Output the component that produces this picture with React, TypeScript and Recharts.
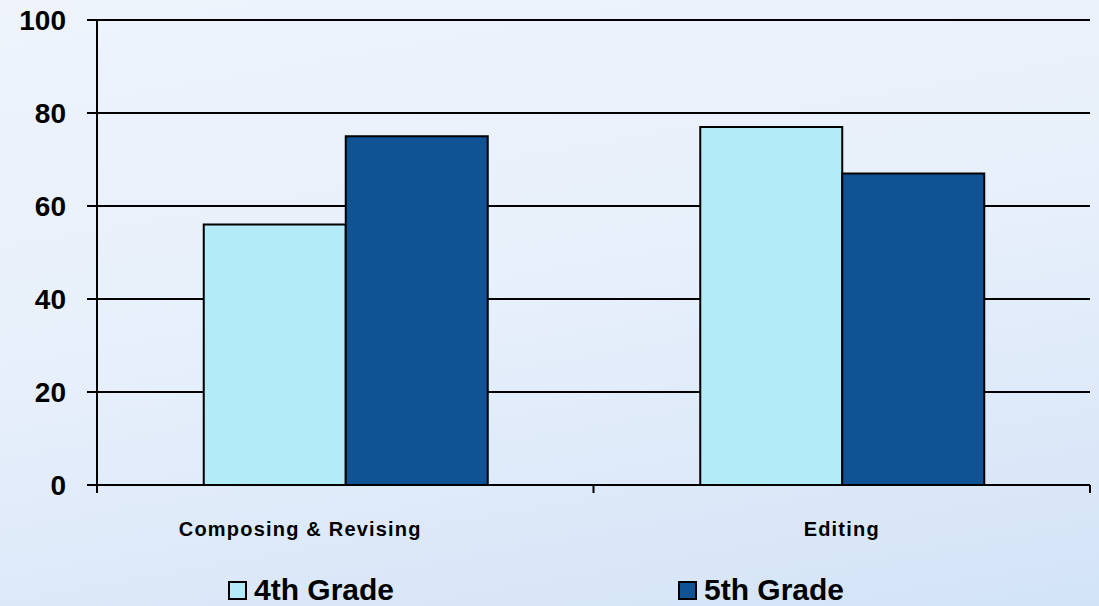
import { BarChart, Bar, XAxis, YAxis, CartesianGrid, Legend } from 'recharts';

const categories = ['Composing & Revising', 'Editing'];
const grade4 = [56, 77];
const grade5 = [75, 67];
const yTicks = [0, 20, 40, 60, 80, 100];

const data = categories.map((name, i) => ({
  name,
  grade4: grade4[i],
  grade5: grade5[i],
}));

const FONT = '"Liberation Sans", Arial, sans-serif';
const TICK_SIZE = 6;
const TICK_MARGIN = 31;

// ticks sit on category boundaries; first label sits left of its group in the original slide
const CategoryTick = (props: any) => {
  const { x, y, payload, index, visibleTicksCount } = props;
  const half = payload.offset ?? 0;
  const axisY = y - TICK_MARGIN - TICK_SIZE;
  const last = index === visibleTicksCount - 1;
  return (
    <g>
      <line x1={x - half} x2={x - half} y1={axisY} y2={axisY + 8} stroke="#000" strokeWidth={2} />
      {last && <line x1={x + half} x2={x + half} y1={axisY} y2={axisY + 8} stroke="#000" strokeWidth={2} />}
      <text
        x={x}
        y={y}
        dx={index === 0 ? -45 : 0}
        dy="0.71em"
        textAnchor="middle"
        fill="#000"
        fontSize={20}
        fontWeight="bold"
        fontFamily={FONT}
        letterSpacing={1.2}
      >
        {payload.value}
      </text>
    </g>
  );
};

const LegendContent = () => (
  <div style={{ position: 'relative', height: 40, fontFamily: FONT }}>
    {[
      { label: '4th Grade', color: '#b3ebf9', left: 228 },
      { label: '5th Grade', color: '#0f5394', left: 678 },
    ].map((item) => (
      <div
        key={item.label}
        style={{ position: 'absolute', left: item.left, top: 6, display: 'flex', alignItems: 'center' }}
      >
        <span
          style={{
            width: 15,
            height: 15,
            background: item.color,
            border: '2px solid #000',
            display: 'inline-block',
            marginRight: 7,
          }}
        />
        <span style={{ fontSize: 30, fontWeight: 'bold', color: '#000', lineHeight: '36px' }}>{item.label}</span>
      </div>
    ))}
  </div>
);

export default function App() {
  return (
    <div
      style={{
        position: 'absolute',
        top: 0,
        left: 0,
        width: 1099,
        height: 606,
        overflow: 'hidden',
        background: 'linear-gradient(170deg, #eef3fc 0%, #e8f0fb 45%, #dde9f9 75%, #d3e3f7 100%)',
      }}
    >
      <BarChart
        width={1099}
        height={606}
        data={data}
        margin={{ top: 20, right: 9, bottom: 0, left: 0 }}
        barCategoryGap="21.5%"
        barGap={0}
      >
        <CartesianGrid vertical={false} stroke="#000" strokeWidth={2} />
        <XAxis
          dataKey="name"
          axisLine={{ stroke: '#000', strokeWidth: 2 }}
          tickLine={false}
          tickSize={TICK_SIZE}
          height={81}
          tickMargin={TICK_MARGIN}
          interval={0}
          tick={<CategoryTick />}
        />
        <YAxis
          domain={[0, 100]}
          ticks={yTicks}
          width={97}
          tickSize={10}
          tickMargin={21}
          axisLine={{ stroke: '#000', strokeWidth: 2 }}
          tickLine={{ stroke: '#000', strokeWidth: 2 }}
          tick={{ fill: '#000', fontSize: 28, fontWeight: 'bold', fontFamily: FONT }}
        />
        <YAxis
          yAxisId="right"
          orientation="right"
          width={0}
          tick={false}
          tickLine={false}
          axisLine={{ stroke: '#333', strokeWidth: 1.5 }}
        />
        <Legend verticalAlign="bottom" content={<LegendContent />} wrapperStyle={{ left: 0, bottom: 0 }} />
        <Bar
          dataKey="grade4"
          name="4th Grade"
          fill="#b3ebf9"
          stroke="#000"
          strokeWidth={2}
          isAnimationActive={false}
        />
        <Bar
          dataKey="grade5"
          name="5th Grade"
          fill="#0f5394"
          stroke="#000"
          strokeWidth={2}
          isAnimationActive={false}
        />
      </BarChart>
    </div>
  );
}
